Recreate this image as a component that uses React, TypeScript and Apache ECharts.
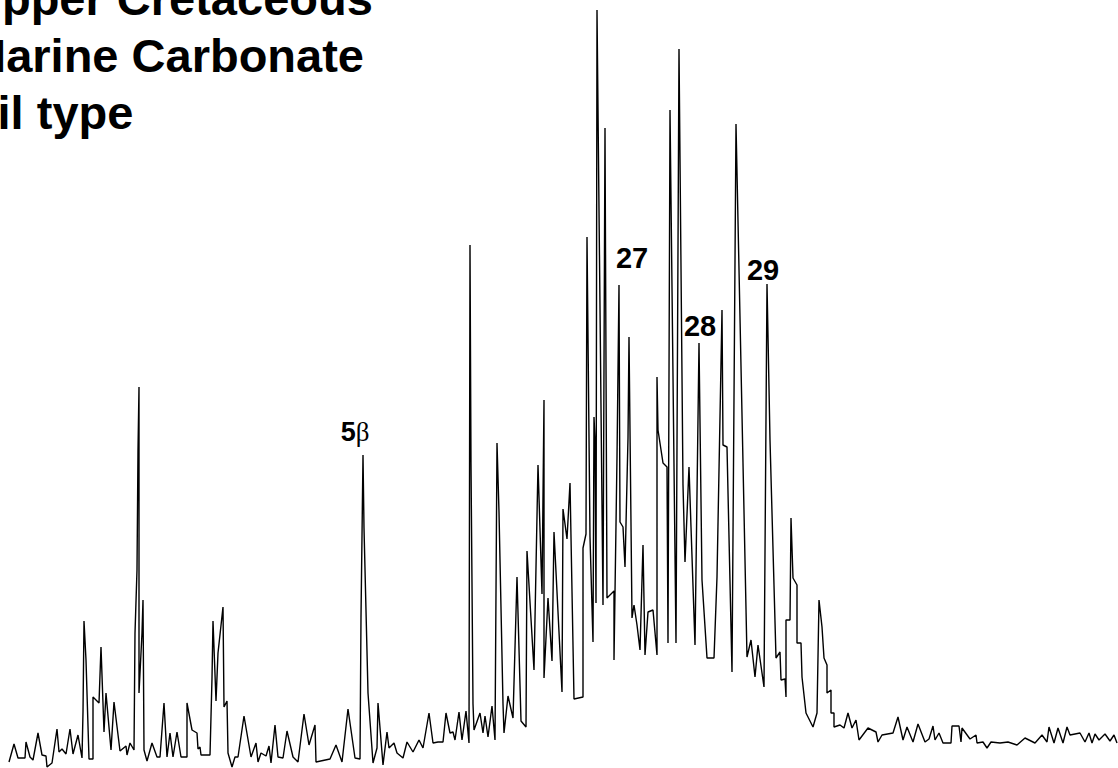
import React, { useEffect, useRef } from "react";
import * as echarts from "echarts";

// Scan number (retention position) and detector abundance of the trace
const scan = [
  9, 14, 18, 25, 26, 30, 33, 38, 42, 46, 47, 52, 57, 59, 62, 66, 70, 73, 78, 82,
  83, 84, 86, 89, 93, 93, 99, 101, 104, 106, 111, 114, 120, 126, 127, 130, 134, 135, 137, 138,
  139, 139, 142, 143, 144, 147, 152, 157, 160, 164, 167, 170, 173, 177, 181, 187, 187, 192, 197, 198,
  200, 201, 210, 212, 213, 216, 218, 223, 224, 227, 228, 232, 235, 238, 244, 251, 256, 258, 261, 266,
  269, 271, 275, 278, 283, 287, 293, 298, 304, 309, 315, 316, 330, 336, 342, 348, 355, 360, 361, 363,
  364, 368, 373, 377, 378, 383, 387, 389, 394, 397, 403, 407, 413, 419, 423, 429, 433, 438, 443, 446,
  450, 453, 455, 459, 462, 466, 469, 470, 471, 473, 474, 480, 483, 485, 488, 492, 495, 497, 499, 503,
  504, 508, 513, 517, 521, 526, 527, 534, 538, 542, 544, 544, 548, 552, 554, 562, 563, 567, 570, 574,
  583, 583, 586, 587, 590, 593, 594, 595, 596, 597, 603, 605, 607, 614, 614, 617, 619, 620, 623, 625,
  628, 629, 632, 634, 637, 640, 643, 645, 648, 653, 657, 657, 658, 663, 667, 668, 670, 676, 679, 683,
  685, 689, 691, 695, 699, 702, 707, 714, 717, 722, 723, 727, 732, 736, 747, 751, 755, 758, 764, 767,
  770, 776, 780, 781, 785, 786, 786, 790, 791, 793, 797, 797, 801, 802, 806, 813, 817, 819, 822, 824,
  827, 827, 831, 831, 834, 834, 840, 844, 848, 852, 856, 859, 868, 876, 878, 882, 893, 898, 903, 907,
  913, 918, 925, 929, 933, 935, 939, 943, 951, 952, 959, 961, 962, 970, 976, 977, 983, 987, 991, 1000,
  1008, 1017, 1025, 1035, 1042, 1047, 1049, 1054, 1058, 1063, 1067, 1070, 1080, 1085, 1089, 1092, 1095, 1099, 1105, 1110,
  1114, 1117,
];

const abundance = [
  6, 24, 10, 10, 26, 11, 8, 35, 13, 12, 1, 5, 39, 16, 19, 14, 39, 14, 33, 10,
  56, 147, 108, 9, 9, 71, 65, 121, 36, 75, 18, 66, 17, 22, 13, 25, 18, 135, 198, 318,
  381, 75, 135, 168, 18, 7, 25, 11, 11, 65, 11, 35, 11, 36, 11, 11, 65, 38, 35, 19,
  21, 13, 13, 90, 147, 67, 115, 161, 61, 67, 15, 1, 11, 11, 52, 11, 25, 6, 15, 12,
  22, 5, 43, 11, 10, 37, 11, 6, 54, 23, 43, 6, 9, 23, 6, 59, 10, 9, 151, 313,
  240, 75, 5, 20, 65, 3, 36, 20, 25, 15, 10, 26, 16, 28, 20, 55, 25, 26, 26, 55,
  35, 36, 28, 56, 28, 57, 25, 523, 304, 64, 38, 55, 35, 52, 31, 62, 28, 325, 256, 64,
  35, 72, 50, 191, 47, 41, 217, 98, 303, 174, 368, 90, 170, 107, 236, 76, 259, 229, 285, 69,
  71, 220, 234, 531, 231, 126, 351, 328, 165, 758, 163, 640, 170, 177, 108, 311, 483, 246, 241, 201,
  330, 431, 150, 163, 143, 118, 223, 113, 156, 158, 113, 391, 338, 305, 301, 125, 658, 125, 719, 283,
  206, 301, 241, 123, 425, 188, 110, 110, 191, 458, 323, 321, 96, 644, 111, 128, 91, 123, 81, 484,
  328, 110, 116, 88, 89, 71, 148, 148, 250, 190, 183, 125, 125, 91, 55, 41, 55, 168, 141, 110,
  103, 75, 78, 55, 55, 41, 43, 40, 55, 40, 48, 28, 40, 36, 26, 33, 35, 51, 28, 41,
  26, 44, 26, 29, 42, 28, 35, 25, 25, 42, 42, 26, 40, 29, 33, 25, 26, 20, 26, 25,
  26, 23, 30, 25, 33, 26, 41, 25, 40, 25, 41, 33, 35, 26, 35, 25, 34, 28, 34, 27,
  33, 25,
];

// Peak annotations: label, scan, abundance of label centre
const peakLabels = ["27", "28", "29"];
const peakLabelScan = [632, 700, 763];
const peakLabelLevel = [510, 442, 498];

const betaLabelScan = 355;
const betaLabelLevel = 336;

const titleLines = ["Upper Cretaceous", "Marine Carbonate", "Oil type"];

export default function App() {
  const ref = useRef<HTMLDivElement>(null);

  useEffect(() => {
    if (!ref.current) return;
    const chart = echarts.init(ref.current, undefined, { renderer: "svg" });

    const points = scan.map((s, i) => [s, abundance[i]]);

    const markData: any[] = peakLabels.map((t, i) => ({
      coord: [peakLabelScan[i], peakLabelLevel[i]],
      symbol: "circle",
      symbolSize: 0,
      label: {
        show: true,
        position: "inside",
        formatter: t,
        color: "#000",
        fontFamily: '"Liberation Sans", Arial, sans-serif',
        fontWeight: "bold",
        fontSize: 29,
      },
    }));
    markData.push({
      coord: [betaLabelScan, betaLabelLevel],
      symbol: "circle",
      symbolSize: 0,
      label: {
        show: true,
        position: "inside",
        formatter: "{a|5}{b|β}",
        rich: {
          a: {
            color: "#000",
            fontFamily: '"Liberation Sans", Arial, sans-serif',
            fontWeight: "bold",
            fontSize: 27,
          },
          b: {
            color: "#000",
            fontFamily: '"Liberation Serif", "DejaVu Serif", serif',
            fontSize: 27,
          },
        },
      },
    });

    const titleFont = 'bold 47px "Liberation Sans", Arial, sans-serif';
    const titleX = [-32, -33, -39];
    const titleY = [-2, 55, 112];

    chart.setOption({
      animation: false,
      backgroundColor: "#fff",
      grid: { left: 0, right: 0, top: 0, bottom: 0, containLabel: false },
      xAxis: {
        type: "value",
        min: 0,
        max: 1118,
        show: false,
        splitLine: { show: false },
      },
      yAxis: {
        type: "value",
        min: 0,
        max: 768,
        show: false,
        splitLine: { show: false },
      },
      graphic: titleLines.map((t, i) => ({
        type: "text",
        x: titleX[i],
        y: titleY[i],
        silent: true,
        style: {
          text: t,
          font: titleFont,
          fill: "#000",
          verticalAlign: "middle",
          align: "left",
        },
      })),
      series: [
        {
          type: "line",
          data: points,
          showSymbol: false,
          symbol: "none",
          clip: false,
          lineStyle: { color: "#000", width: 1.4 },
          markPoint: {
            silent: true,
            data: markData,
          },
        },
      ],
    });

    return () => chart.dispose();
  }, []);

  return (
    <div
      ref={ref}
      style={{ position: "fixed", left: 0, top: 0, width: 1118, height: 768 }}
    />
  );
}
